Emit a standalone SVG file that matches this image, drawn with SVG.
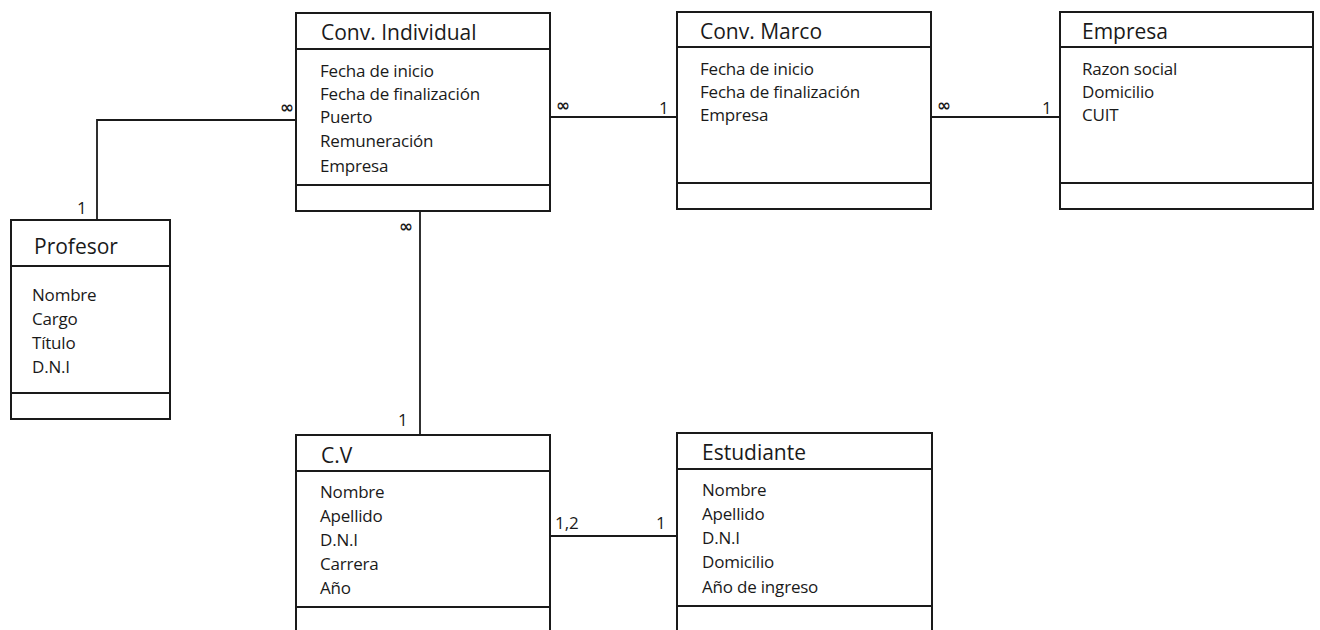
<svg xmlns="http://www.w3.org/2000/svg" width="1320" height="630" viewBox="0 0 1320 630">
<style>
.box{fill:#fff;stroke:#1a1a1a;stroke-width:2}
.div{stroke:#1a1a1a;stroke-width:2}
.t{font-family:"Open Sans","Liberation Sans",sans-serif;font-size:21px;fill:#1a1a1a}
.a{font-family:"Open Sans","Liberation Sans",sans-serif;font-size:17px;fill:#1a1a1a;letter-spacing:-0.2px}
.c{stroke:#1a1a1a;stroke-width:1.8;fill:none}
.m{font-family:"Open Sans","Liberation Sans",sans-serif;font-size:17px;fill:#1a1a1a}
.inf{font-family:"DejaVu Sans",sans-serif;font-size:17px;font-weight:bold;fill:#1a1a1a}
</style>
<rect width="1320" height="630" fill="#fff"/>
<g id="connectors">
<polyline class="c" points="97,220 97,120 296,120"/>
<line class="c" x1="550" y1="117" x2="677" y2="117"/>
<line class="c" x1="931" y1="117" x2="1060" y2="117"/>
<line class="c" x1="420" y1="211" x2="420" y2="435"/>
<line class="c" x1="550" y1="536" x2="677" y2="536"/>
<text class="inf" x="280" y="113">∞</text>
<text class="m" x="77" y="214">1</text>
<text class="inf" x="556" y="111">∞</text>
<text class="m" x="659" y="114">1</text>
<text class="inf" x="937" y="111">∞</text>
<text class="m" x="1042" y="114">1</text>
<text class="inf" x="399" y="232">∞</text>
<text class="m" x="398" y="426">1</text>
<text class="m" x="555" y="529">1,2</text>
<text class="m" x="656" y="529">1</text>
</g>
<g id="conv-individual">
<rect class="box" x="296" y="13" width="254" height="198"/>
<line class="div" x1="296" y1="49" x2="550" y2="49"/>
<line class="div" x1="296" y1="185" x2="550" y2="185"/>
<text class="t" x="321" y="40">Conv. Individual</text>
<text class="a" x="320" y="77">Fecha de inicio</text>
<text class="a" x="320" y="100">Fecha de finalización</text>
<text class="a" x="320" y="123">Puerto</text>
<text class="a" x="320" y="147">Remuneración</text>
<text class="a" x="320" y="172">Empresa</text>
</g>
<g id="conv-marco">
<rect class="box" x="677" y="12" width="254" height="197"/>
<line class="div" x1="677" y1="47" x2="931" y2="47"/>
<line class="div" x1="677" y1="183" x2="931" y2="183"/>
<text class="t" x="700" y="39">Conv. Marco</text>
<text class="a" x="700" y="75">Fecha de inicio</text>
<text class="a" x="700" y="98">Fecha de finalización</text>
<text class="a" x="700" y="121">Empresa</text>
</g>
<g id="empresa">
<rect class="box" x="1060" y="12" width="253" height="197"/>
<line class="div" x1="1060" y1="47" x2="1313" y2="47"/>
<line class="div" x1="1060" y1="183" x2="1313" y2="183"/>
<text class="t" x="1082" y="39">Empresa</text>
<text class="a" x="1082" y="75">Razon social</text>
<text class="a" x="1082" y="98">Domicilio</text>
<text class="a" x="1082" y="121">CUIT</text>
</g>
<g id="profesor">
<rect class="box" x="11" y="220" width="159" height="199"/>
<line class="div" x1="11" y1="266" x2="170" y2="266"/>
<line class="div" x1="11" y1="393" x2="170" y2="393"/>
<text class="t" x="34" y="254">Profesor</text>
<text class="a" x="32" y="301">Nombre</text>
<text class="a" x="32" y="325">Cargo</text>
<text class="a" x="32" y="349">Título</text>
<text class="a" x="32" y="373">D.N.I</text>
</g>
<g id="cv">
<rect class="box" x="296" y="435" width="254" height="210"/>
<line class="div" x1="296" y1="471" x2="550" y2="471"/>
<line class="div" x1="296" y1="607" x2="550" y2="607"/>
<text class="t" x="321" y="463">C.V</text>
<text class="a" x="320" y="498">Nombre</text>
<text class="a" x="320" y="522">Apellido</text>
<text class="a" x="320" y="546">D.N.I</text>
<text class="a" x="320" y="570">Carrera</text>
<text class="a" x="320" y="594">Año</text>
</g>
<g id="estudiante">
<rect class="box" x="677" y="433" width="255" height="212"/>
<line class="div" x1="677" y1="469" x2="932" y2="469"/>
<line class="div" x1="677" y1="606" x2="932" y2="606"/>
<text class="t" x="702" y="460">Estudiante</text>
<text class="a" x="702" y="496">Nombre</text>
<text class="a" x="702" y="520">Apellido</text>
<text class="a" x="702" y="544">D.N.I</text>
<text class="a" x="702" y="568">Domicilio</text>
<text class="a" x="702" y="593">Año de ingreso</text>
</g>
</svg>
